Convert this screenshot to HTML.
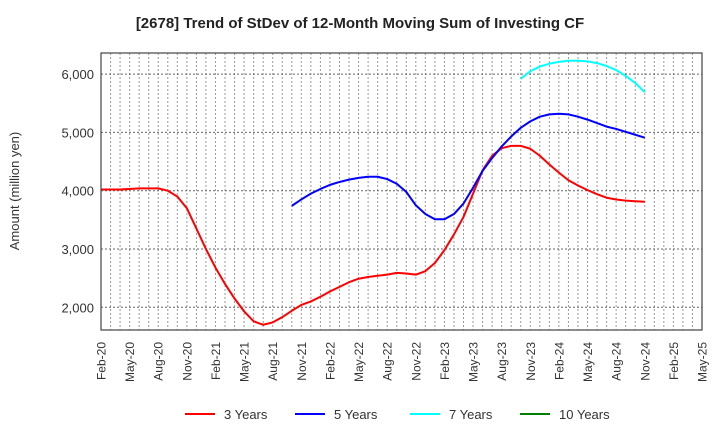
<!DOCTYPE html>
<html><head><meta charset="utf-8"><style>
body{margin:0;background:#fff;font-family:"Liberation Sans",Arial,sans-serif}
svg text{font-family:"Liberation Sans",Arial,sans-serif}
</style></head><body>
<svg id="chart" width="720" height="440" xmlns="http://www.w3.org/2000/svg">
<text x="360" y="28" text-anchor="middle" font-size="15" font-weight="bold" fill="#222">[2678]  Trend of StDev of 12-Month Moving Sum of Investing CF</text>
<text transform="translate(19,191) rotate(-90)" text-anchor="middle" font-size="13" fill="#333">Amount (million yen)</text>
<g id="grid"></g>
<g id="series"></g>
<rect x="101" y="53" width="601" height="277" fill="none" stroke="#444" stroke-width="1.2"/>
<g id="axes"></g>
<g id="legend"></g>
</svg>
<script>
const months = 64; // Feb-20 .. May-25
const xTickLabels = ["Feb-20","May-20","Aug-20","Nov-20","Feb-21","May-21","Aug-21","Nov-21","Feb-22","May-22","Aug-22","Nov-22","Feb-23","May-23","Aug-23","Nov-23","Feb-24","May-24","Aug-24","Nov-24","Feb-25","May-25"];
const yTicks = [2000,3000,4000,5000,6000];
const seriesNames = ["3 Years","5 Years","7 Years","10 Years"];
const seriesColors = ["#ff0000","#0000ff","#00ffff","#008000"];
const start3 = 0;
const values3 = [4020,4020,4020,4030,4040,4040,4040,4000,3900,3700,3350,3000,2680,2400,2150,1930,1760,1700,1740,1830,1940,2040,2100,2180,2270,2350,2430,2490,2520,2540,2560,2590,2580,2560,2620,2760,2980,3250,3550,3950,4350,4600,4730,4770,4770,4720,4600,4450,4310,4180,4090,4010,3940,3880,3850,3830,3820,3810];
const start5 = 20;
const values5 = [3740,3850,3950,4030,4100,4150,4190,4220,4240,4240,4200,4120,3980,3750,3600,3510,3510,3600,3780,4050,4340,4560,4760,4930,5080,5190,5270,5310,5320,5310,5270,5220,5160,5100,5060,5010,4960,4910];
const start7 = 44;
const values7 = [5920,6050,6130,6180,6210,6230,6230,6220,6190,6140,6070,5970,5850,5690];
const start10 = 0;
const values10 = [];

const L=101,R=702,T=53,B=330, yMin=1610, yMax=6363;
const xs = i => L + i*(R-L)/(months-1);
const ys = v => B - (v-yMin)/(yMax-yMin)*(B-T);
const NS="http://www.w3.org/2000/svg";
function mk(tag, attrs, parent){const e=document.createElementNS(NS,tag);for(const k in attrs)e.setAttribute(k,attrs[k]);parent.appendChild(e);return e;}
const grid=document.getElementById('grid'), axes=document.getElementById('axes'), ser=document.getElementById('series'), leg=document.getElementById('legend');
for(let i=1;i<months-1;i++){
  const l=mk('line',{x1:xs(i),x2:xs(i),y1:T,y2:B,stroke:'#999','stroke-width':1,'stroke-dasharray':'2,2'},grid);
  
  
}
yTicks.forEach(v=>{
  const l=mk('line',{x1:L,x2:R,y1:ys(v),y2:ys(v),stroke:'#666','stroke-width':1,'stroke-dasharray':'2,2'},grid);
  
  
  const t=mk('text',{x:L-7,y:ys(v)+5,'text-anchor':'end','font-size':13,fill:'#333'},axes);
  t.textContent=v.toLocaleString('en-US');
  
  
});
xTickLabels.forEach((s,k)=>{
  const x=xs(k*3);
  const t=mk('text',{transform:`translate(${x+4.5},342) rotate(-90)`,'text-anchor':'end','font-size':12,fill:'#333'},axes);
  t.textContent=s;
  
  
});
function drawSeries(start, vals, color, name){
  if(!vals.length) return;
  const p=mk('polyline',{points:vals.map((v,i)=>xs(start+i)+','+ys(v)).join(' '),fill:'none',stroke:color,'stroke-width':2,'stroke-linejoin':'round'},ser);
  
  
}
drawSeries(start3,values3,seriesColors[0],'line-3-years');
drawSeries(start5,values5,seriesColors[1],'line-5-years');
drawSeries(start7,values7,seriesColors[2],'line-7-years');
drawSeries(start10,values10,seriesColors[3],'line-10-years');
const legX=[185,295,410,520];
seriesNames.forEach((n,i)=>{
  const g=mk('g',{},leg);
  
  
  mk('line',{x1:legX[i],x2:legX[i]+30,y1:414,y2:414,stroke:seriesColors[i],'stroke-width':2},g);
  const t=mk('text',{x:legX[i]+39,y:419,'font-size':13,fill:'#333'},g);
  t.textContent=n;
});
</script>
</body></html>
